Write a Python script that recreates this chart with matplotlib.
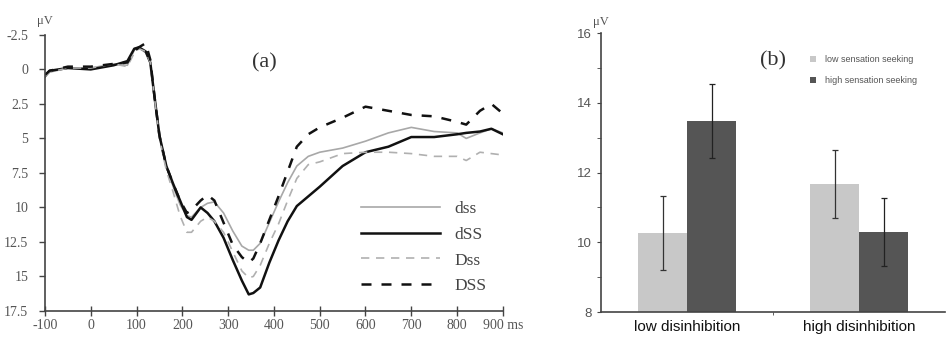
import matplotlib
matplotlib.use("Agg")
import matplotlib.pyplot as plt
import numpy as np

# ---- panel (a): ERP waveforms ----
time_ms = [-100, -90, -50, 0, 50, 80, 95, 105, 120, 130, 140, 150, 165, 180, 195,
           210, 220, 240, 255, 270, 290, 310, 330, 345, 355, 370, 390, 410, 430,
           450, 475, 500, 550, 600, 650, 700, 750, 800, 820, 850, 875, 900]

dss = [0.5, 0.2, -0.1, -0.1, -0.4, -0.3, -1.4, -1.6, -1.2, -0.5, 2.2, 4.8, 7.0, 8.5, 9.8,
       10.6, 10.7, 10.0, 9.7, 9.6, 10.4, 11.7, 12.8, 13.1, 13.1, 12.6, 11.1, 9.6, 8.2,
       7.0, 6.3, 6.0, 5.7, 5.2, 4.6, 4.2, 4.5, 4.6, 5.0, 4.6, 4.3, 4.6]
dSS = [0.5, 0.1, -0.1, 0.0, -0.3, -0.6, -1.5, -1.6, -1.3, -0.5, 2.2, 4.8, 7.0, 8.3, 9.5,
       10.7, 10.9, 10.0, 10.4, 11.0, 12.2, 13.8, 15.3, 16.3, 16.2, 15.8, 14.0, 12.4, 11.0,
       9.9, 9.2, 8.5, 7.0, 6.0, 5.6, 4.9, 4.9, 4.7, 4.6, 4.5, 4.3, 4.7]
Dss = [0.5, 0.2, -0.1, -0.1, -0.4, -0.2, -1.2, -1.5, -1.3, -0.5, 2.3, 5.0, 7.3, 8.9, 10.6,
       11.8, 11.8, 11.0, 10.7, 11.0, 11.8, 13.2, 14.6, 15.1, 15.0, 14.2, 12.6, 11.2, 9.5,
       7.9, 6.9, 6.7, 6.1, 6.0, 6.0, 6.1, 6.3, 6.3, 6.6, 6.0, 6.1, 6.2]
DSS = [0.4, 0.1, -0.2, -0.2, -0.4, -0.5, -1.3, -1.6, -1.9, -0.7, 2.2, 4.8, 7.0, 8.3, 9.5,
       10.4, 10.2, 9.5, 9.1, 9.5, 11.1, 12.7, 13.6, 14.0, 13.7, 12.6, 10.9, 9.2, 7.4,
       5.6, 4.7, 4.2, 3.5, 2.7, 3.0, 3.3, 3.4, 3.8, 4.0, 3.0, 2.5, 3.2]

# ---- panel (b): bar chart ----
groups = ["low disinhibition", "high disinhibition"]
low_ss = [10.27, 11.68]
low_ss_err = [1.07, 0.97]
high_ss = [13.48, 10.30]
high_ss_err = [1.07, 0.98]

serif = ["Liberation Serif", "DejaVu Serif"]
sans = ["Liberation Sans", "DejaVu Sans"]
tick_gray = "#555555"
axis_gray = "#444444"

fig = plt.figure(figsize=(9.47, 3.49), dpi=100)

# (a)
ax1 = fig.add_axes([0.0475, 0.109, 0.4835, 0.791])
ax1.plot(time_ms, dss, color="#a8a8a8", lw=1.2, label="dss")
ax1.plot(time_ms, dSS, color="#111111", lw=1.8, label="dSS")
ax1.plot(time_ms, Dss, color="#b0b0b0", lw=1.2, ls=(0, (5, 4)), label="Dss")
ax1.plot(time_ms, DSS, color="#111111", lw=1.8, ls=(0, (4, 4)), label="DSS")
ax1.set_xlim(-100, 900)
ax1.set_ylim(17.5, -2.5)
ax1.set_xticks(range(-100, 901, 100))
ax1.set_xticklabels([str(v) for v in range(-100, 900, 100)] + ["900 ms"])
ax1.set_yticks(np.arange(-2.5, 17.6, 2.5))
ax1.set_yticklabels(["-2.5", "0", "2.5", "5", "7.5", "10", "12.5", "15", "17.5"])
ax1.spines["top"].set_visible(False)
ax1.spines["right"].set_visible(False)
for s in ("left", "bottom"):
    ax1.spines[s].set_color(axis_gray)
    ax1.spines[s].set_linewidth(1.2)
ax1.tick_params(axis="x", direction="inout", length=7, width=1.0, color=axis_gray,
                labelcolor=tick_gray, labelsize=10, pad=2)
ax1.tick_params(axis="y", direction="out", length=4, width=1.0, color=axis_gray,
                labelcolor=tick_gray, labelsize=10, pad=8)
for lab in ax1.get_xticklabels() + ax1.get_yticklabels():
    lab.set_family(serif)
ax1.text(-0.0, 1.03, "\u03bcV", transform=ax1.transAxes, family=serif,
         fontsize=9, color=tick_gray, ha="center", va="bottom")
ax1.text(0.48, 0.9, "(a)", transform=ax1.transAxes, family=serif,
         fontsize=16, color="#333333", ha="center", va="center")
ax1.legend(loc="upper left", bbox_to_anchor=(0.655, 0.455), frameon=False,
           prop={"family": serif, "size": 12.5}, handlelength=4.6,
           labelspacing=0.55, handletextpad=0.8, labelcolor="#444444")

# (b)
ax2 = fig.add_axes([0.6347, 0.106, 0.3633, 0.799])
centers = np.array([0.5, 1.5])
bw = 0.285
ax2.bar(centers - bw / 2, low_ss, bw, color="#c8c8c8",
        label="low sensation seeking", zorder=2)
ax2.bar(centers + bw / 2, high_ss, bw, color="#555555",
        label="high sensation seeking", zorder=2)
ax2.errorbar(centers - bw / 2, low_ss, yerr=low_ss_err, fmt="none", ecolor="#333333",
             elinewidth=0.9, capsize=2.5, capthick=0.9, zorder=3)
ax2.errorbar(centers + bw / 2, high_ss, yerr=high_ss_err, fmt="none", ecolor="#222222",
             elinewidth=0.9, capsize=2.5, capthick=0.9, zorder=3)
ax2.set_xlim(0, 2)
ax2.set_ylim(8, 16)
ax2.set_yticks(range(8, 17, 2))
ax2.set_yticks(range(9, 16, 2), minor=True)
ax2.set_xticks(centers)
ax2.set_xticklabels(groups, family=sans, fontsize=11, color="#111111")
ax2.set_xticks([1.0], minor=True)
ax2.spines["top"].set_visible(False)
ax2.spines["right"].set_visible(False)
for s in ("left", "bottom"):
    ax2.spines[s].set_color(axis_gray)
    ax2.spines[s].set_linewidth(1.2)
ax2.tick_params(axis="x", which="major", length=0, pad=6)
ax2.tick_params(axis="x", which="minor", direction="out", length=2, color=axis_gray)
ax2.tick_params(axis="y", which="both", direction="out", length=3, color=axis_gray,
                labelcolor=tick_gray, labelsize=9.5, pad=4)
for lab in ax2.get_yticklabels():
    lab.set_family(sans)
ax2.text(0.0, 1.02, "\u03bcV", transform=ax2.transAxes, family=serif,
         fontsize=9, color=tick_gray, ha="center", va="bottom")
ax2.text(0.5, 0.9, "(b)", transform=ax2.transAxes, family=serif,
         fontsize=16, color="#333333", ha="center", va="center")
ax2.legend(loc="upper left", bbox_to_anchor=(0.585, 0.95), frameon=False,
           prop={"family": sans, "size": 6.5}, handlelength=0.6, handleheight=0.6,
           labelspacing=1.3, handletextpad=1.0, labelcolor="#555555")

fig.savefig("out.png", dpi=100)
